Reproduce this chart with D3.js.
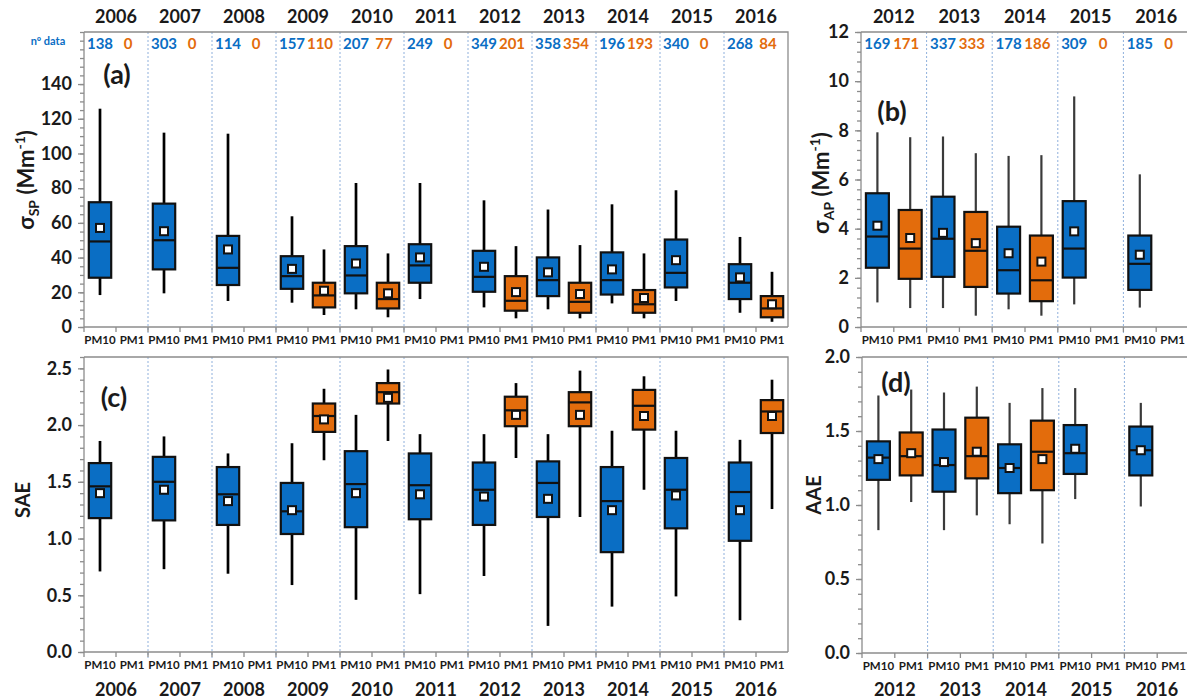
<!DOCTYPE html>
<html>
<head>
<meta charset="utf-8">
<style>
  body { margin: 0; background: #fff; font-family: Lato, "Open Sans", sans-serif; }
  svg text { font-weight: bold; fill: #1a1a1a; }
  .frame { stroke: #8c8c8c; stroke-width: 1.3; fill: none; }
  .sep { stroke: #8fb0dc; stroke-width: 1; stroke-dasharray: 2,2; }
  .axis path { display: none; }
  .axis line { stroke: #8c8c8c; stroke-width: 1.3; }
</style>
<script src="https://d3js.org/d3.v7.min.js"></script>
</head>
<body>
<script>
// box stats per year: [min, q1, median, q3, max, mean]; null = no data
const yearsA = [2006, 2007, 2008, 2009, 2010, 2011, 2012, 2013, 2014, 2015, 2016];
const nPM10a = [138, 303, 114, 157, 207, 249, 349, 358, 196, 340, 268];
const nPM1a  = [0, 0, 0, 110, 77, 0, 201, 354, 193, 0, 84];

const spPM10 = [
  [18.4, 28.4, 49.3, 71.9, 125.8, 57.1],
  [19.4, 33.2, 50.0, 71.1, 112.0, 55.2],
  [15.0, 24.2, 34.1, 52.5, 111.4, 44.7],
  [14.0, 22.0, 29.3, 40.8, 63.8, 33.5],
  [10.2, 19.4, 29.7, 46.6, 83.0, 36.6],
  [16.1, 25.5, 35.5, 47.7, 83.0, 40.1],
  [11.3, 20.3, 28.9, 43.9, 73.0, 34.7],
  [10.2, 17.8, 27.0, 40.1, 67.7, 31.5],
  [13.6, 18.7, 27.0, 43.0, 70.7, 33.2],
  [15.0, 22.8, 31.2, 50.4, 78.8, 38.5],
  [8.2, 16.1, 25.5, 36.2, 51.9, 28.6]
];
const spPM1 = [
  null, null, null,
  [6.9, 11.3, 18.2, 25.5, 44.7, 20.9],
  [5.6, 10.7, 16.1, 25.5, 42.4, 19.4],
  null,
  [5.0, 9.4, 15.1, 29.3, 46.6, 20.1],
  [5.0, 8.2, 14.5, 25.5, 47.2, 19.0],
  [5.0, 8.2, 13.1, 21.3, 42.4, 16.7],
  null,
  [3.0, 5.6, 10.7, 17.8, 31.8, 13.1]
];

const saePM10 = [
  [0.71, 1.18, 1.46, 1.665, 1.86, 1.40],
  [0.73, 1.16, 1.50, 1.72, 1.90, 1.43],
  [0.69, 1.12, 1.39, 1.63, 1.75, 1.33],
  [0.59, 1.04, 1.24, 1.49, 1.84, 1.25],
  [0.46, 1.10, 1.48, 1.77, 2.09, 1.40],
  [0.51, 1.17, 1.47, 1.75, 1.92, 1.39],
  [0.67, 1.12, 1.43, 1.67, 1.92, 1.37],
  [0.23, 1.19, 1.49, 1.68, 1.92, 1.35],
  [0.40, 0.88, 1.33, 1.63, 1.95, 1.25],
  [0.49, 1.09, 1.43, 1.71, 1.95, 1.38],
  [0.28, 0.98, 1.41, 1.67, 1.87, 1.25]
];
const saePM1 = [
  null, null, null,
  [1.69, 1.94, 2.08, 2.19, 2.32, 2.05],
  [1.86, 2.19, 2.29, 2.37, 2.49, 2.24],
  null,
  [1.71, 1.99, 2.13, 2.25, 2.37, 2.09],
  [1.19, 1.99, 2.20, 2.29, 2.48, 2.09],
  [1.43, 1.96, 2.17, 2.31, 2.43, 2.08],
  null,
  [1.26, 1.93, 2.12, 2.22, 2.40, 2.08]
];

const yearsB = [2012, 2013, 2014, 2015, 2016];
const nPM10b = [169, 337, 178, 309, 185];
const nPM1b  = [171, 333, 186, 0, 0];

const apPM10 = [
  [1.00, 2.41, 3.68, 5.44, 7.92, 4.12],
  [0.77, 2.04, 3.59, 5.30, 7.75, 3.83],
  [0.72, 1.36, 2.31, 4.08, 6.96, 3.00],
  [0.92, 2.01, 3.19, 5.12, 9.38, 3.89],
  [0.79, 1.51, 2.57, 3.72, 6.21, 2.94]
];
const apPM1 = [
  [0.77, 1.96, 3.19, 4.76, 7.72, 3.62],
  [0.46, 1.63, 3.10, 4.68, 7.07, 3.41],
  [0.46, 1.05, 1.90, 3.72, 6.99, 2.66],
  null, null
];

const aaePM10 = [
  [0.83, 1.17, 1.32, 1.43, 1.74, 1.31],
  [0.83, 1.09, 1.27, 1.51, 1.76, 1.29],
  [0.87, 1.08, 1.25, 1.41, 1.69, 1.25],
  [1.04, 1.21, 1.35, 1.54, 1.79, 1.38],
  [0.99, 1.20, 1.37, 1.53, 1.69, 1.37]
];
const aaePM1 = [
  [1.02, 1.20, 1.33, 1.49, 1.78, 1.35],
  [0.93, 1.18, 1.33, 1.59, 1.80, 1.36],
  [0.74, 1.10, 1.36, 1.57, 1.79, 1.31],
  null, null
];

const BLUE = "#0a6ec4", ORANGE = "#e36c0c";

const svg = d3.select("body").append("svg")
  .attr("width", 1187).attr("height", 700);

const panels = [
  { label: "(a)", years: yearsA, pm10: spPM10, pm1: spPM1, n10: nPM10a, n1: nPM1a,
    x0: 84, x1: 788, y0: 32, y1: 327, max: 170, major: d3.range(0, 141, 20), minor: d3.range(0, 171, 5),
    fmt: d3.format("d"), title: ["σ", "SP"], unit: true, titleX: 26, titleY: 180,
    labX: 117, labY: 84, yearsTop: true, whisk: "#000", whiskW: 2.7 },
  { label: "(b)", years: yearsB, pm10: apPM10, pm1: apPM1, n10: nPM10b, n1: nPM1b,
    x0: 861, x1: 1189, y0: 32, y1: 327, max: 12, major: d3.range(0, 12.1, 2), minor: d3.range(0, 12.01, 0.4),
    fmt: d3.format("d"), title: ["σ", "AP"], unit: true, titleX: 821, titleY: 183,
    labX: 892, labY: 121, yearsTop: true, whisk: "#3a3a3a", whiskW: 2.2 },
  { label: "(c)", years: yearsA, pm10: saePM10, pm1: saePM1,
    x0: 84, x1: 788, y0: 357, y1: 652, max: 2.6, major: d3.range(0, 2.51, 0.5), minor: d3.range(0, 2.61, 0.1),
    fmt: d3.format(".1f"), title: ["SAE"], titleX: 23, titleY: 500,
    labX: 114, labY: 407, yearsTop: false, whisk: "#000", whiskW: 2.7 },
  { label: "(d)", years: yearsB, pm10: aaePM10, pm1: aaePM1,
    x0: 862, x1: 1190, y0: 357, y1: 653, max: 2.0, major: d3.range(0, 2.01, 0.5), minor: d3.range(0, 2.01, 0.1),
    fmt: d3.format(".1f"), title: ["AAE"], titleX: 814, titleY: 495,
    labX: 896, labY: 392, yearsTop: false, whisk: "#3a3a3a", whiskW: 2.2 }
];

panels.forEach(p => {
  const g = svg.append("g");
  const slots = p.years.flatMap(yr => [yr + "PM10", yr + "PM1"]);
  const x = d3.scaleBand().domain(slots).range([p.x0, p.x1]);
  const y = d3.scaleLinear().domain([0, p.max]).range([p.y1, p.y0]);
  const bw = x.bandwidth() * 0.7;

  // year separators
  p.years.slice(1).forEach(yr => {
    const xs = x(yr + "PM10");
    g.append("line").attr("class", "sep")
      .attr("x1", xs).attr("x2", xs).attr("y1", p.y0).attr("y2", p.y1 + 6);
  });

  // frame (top, right) and x baseline
  g.append("path").attr("class", "frame")
    .attr("d", `M${p.x0},${p.y0}H${p.x1}V${p.y1}`);
  g.append("line").attr("class", "frame")
    .attr("x1", p.x0).attr("x2", p.x1).attr("y1", p.y1).attr("y2", p.y1);
  g.append("line").attr("class", "frame")
    .attr("x1", p.x0).attr("x2", p.x0).attr("y1", p.y0).attr("y2", p.y1);

  // x ticks at slot boundaries
  slots.forEach(s => {
    g.append("line").attr("class", "frame")
      .attr("x1", x(s)).attr("x2", x(s)).attr("y1", p.y1).attr("y2", p.y1 + 5);
  });

  // y axes
  g.append("g").attr("class", "axis")
    .attr("transform", `translate(${p.x0},0)`)
    .call(d3.axisLeft(y).tickValues(p.minor).tickSize(4).tickFormat(""));
  g.append("g").attr("class", "axis")
    .attr("transform", `translate(${p.x0},0)`)
    .call(d3.axisLeft(y).tickValues(p.major).tickSize(6).tickPadding(6).tickFormat(p.fmt))
    .selectAll("text")
    .style("font-size", "18px").style("font-family", "Lato, sans-serif")
    .attr("fill", "#1a1a1a");

  // PM labels
  slots.forEach(s => {
    g.append("text")
      .attr("x", x(s) + x.bandwidth() / 2)
      .attr("y", p.y1 + 17)
      .attr("text-anchor", "middle")
      .style("font-size", "11.5px")
      .text(s.endsWith("PM10") ? "PM10" : "PM1");
  });

  // year labels
  p.years.forEach(yr => {
    g.append("text")
      .attr("x", x(yr + "PM1"))
      .attr("y", p.yearsTop ? 23 : 696)
      .attr("text-anchor", "middle")
      .style("font-size", "18px")
      .text(yr);
  });

  // counts
  if (p.n10) {
    p.years.forEach((yr, i) => {
      g.append("text")
        .attr("x", x(yr + "PM10") + x.bandwidth() / 2)
        .attr("y", 49).attr("text-anchor", "middle")
        .style("font-size", "15px").style("fill", BLUE)
        .text(p.n10[i]);
      g.append("text")
        .attr("x", x(yr + "PM1") + x.bandwidth() / 2 - 4)
        .attr("y", 49).attr("text-anchor", "middle")
        .style("font-size", "15px").style("fill", ORANGE)
        .text(p.n1[i]);
    });
  }

  // boxes
  const series = [
    { data: p.pm10, key: "PM10", color: BLUE },
    { data: p.pm1, key: "PM1", color: ORANGE }
  ];
  series.forEach(se => {
    p.years.forEach((yr, i) => {
      const d = se.data[i];
      if (!d) return;
      const cx = x(yr + se.key) + x.bandwidth() / 2;
      const [mn, q1, md, q3, mx, mean] = d;
      g.append("line")
        .attr("x1", cx).attr("x2", cx).attr("y1", y(mn)).attr("y2", y(mx))
        .attr("stroke", p.whisk).attr("stroke-width", p.whiskW);
      g.append("rect")
        .attr("x", cx - bw / 2).attr("width", bw)
        .attr("y", y(q3)).attr("height", y(q1) - y(q3))
        .attr("fill", se.color).attr("stroke", "#111").attr("stroke-width", 2.2);
      g.append("line")
        .attr("x1", cx - bw / 2).attr("x2", cx + bw / 2)
        .attr("y1", y(md)).attr("y2", y(md))
        .attr("stroke", "#111").attr("stroke-width", 2.2);
      g.append("rect")
        .attr("x", cx - 4).attr("y", y(mean) - 4)
        .attr("width", 8).attr("height", 8)
        .attr("fill", "#fff").attr("stroke", "#111").attr("stroke-width", 2);
    });
  });

  // panel label
  g.append("text")
    .attr("x", p.labX).attr("y", p.labY)
    .attr("text-anchor", "middle")
    .style("font-size", "27px")
    .text(p.label);

  // y title
  const t = g.append("text")
    .attr("transform", `translate(${p.titleX},${p.titleY}) rotate(-90)`)
    .attr("text-anchor", "middle")
    .attr("dy", "0.35em")
    .style("font-size", p.unit ? "22px" : "20px");
  if (p.unit) {
    t.append("tspan").text(p.title[0]);
    t.append("tspan").attr("dy", 5).style("font-size", "14px").text(p.title[1]);
    t.append("tspan").attr("dy", -5).text(" (Mm");
    t.append("tspan").attr("dy", -9).style("font-size", "14px").text("-1");
    t.append("tspan").attr("dy", 9).text(")");
  } else {
    t.text(p.title[0]);
  }
});

// "nº data" label
svg.append("text")
  .attr("x", 48).attr("y", 45)
  .attr("text-anchor", "middle")
  .style("font-size", "11px").style("fill", BLUE)
  .text("nº data");
</script>
</body>
</html>
